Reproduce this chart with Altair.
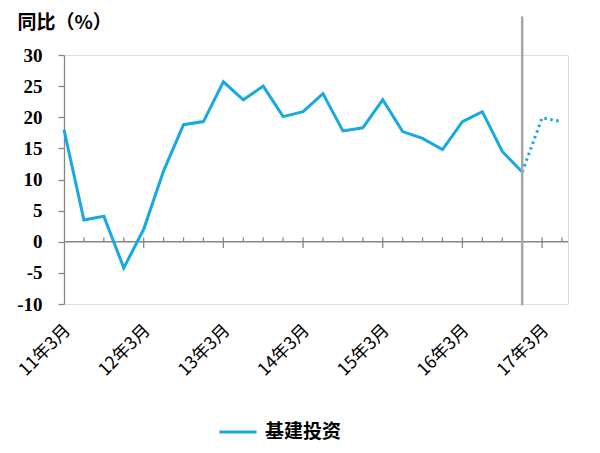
import json
import altair as alt
import pandas as pd

# ---- data ----
periods = ["11年3月", "11年6月", "11年9月", "11年12月",
           "12年3月", "12年6月", "12年9月", "12年12月",
           "13年3月", "13年6月", "13年9月", "13年12月",
           "14年3月", "14年6月", "14年9月", "14年12月",
           "15年3月", "15年6月", "15年9月", "15年12月",
           "16年3月", "16年6月", "16年9月", "16年12月",
           "17年3月", "17年6月"]
actual = [18.0, 3.5, 4.1, -4.2, 2.0, 11.4, 18.8, 19.3,
          25.7, 22.8, 25.0, 20.1, 20.9, 23.8, 17.8, 18.3,
          22.8, 17.7, 16.6, 14.8, 19.3, 20.9, 14.5, 11.2]
forecast_idx = [23, 24, 25]
forecast = [11.2, 19.9, 19.3]
series_name = "基建投资"
y_ticks = [-10, -5, 0, 5, 10, 15, 20, 25, 30]
label_idx = [0, 4, 8, 12, 16, 20, 24]
divider_idx = 23

BLUE = "#17A9E1"
GRAY = "#868686"

df_a = pd.DataFrame({"k": list(range(len(actual))), "v": actual, "s": series_name})
df_f = pd.DataFrame({"k": forecast_idx, "v": forecast})
df_zero = pd.DataFrame({"x0": [0], "x1": [25.3], "y": [0]})
df_ticks = pd.DataFrame({
    "k": list(range(1, len(periods))),
    "y0": [(-1.0 if i % 4 == 0 else 0.0) for i in range(1, len(periods))],
    "y1": [0.7] * (len(periods) - 1),
})
df_div = pd.DataFrame({"k": [divider_idx], "y0": [-10.2], "y1": [36.2]})

xs = alt.Scale(domain=[0, 25.3], nice=False, zero=False)
ys = alt.Scale(domain=[-10, 30], nice=False, zero=False)

label_expr = json.dumps(periods, ensure_ascii=False) + "[datum.value]"

x_axis = alt.Axis(values=label_idx, labelExpr=label_expr, labelAngle=-45,
                  labelAlign="right", labelBaseline="top", domain=False,
                  ticks=False, tickSize=0, grid=False, labelPadding=17,
                  labelOffset=-3, labelFont="Noto Sans CJK SC", labelFontSize=17.5,
                  labelColor="black", title=None, labelOverlap=False)
y_axis = alt.Axis(values=y_ticks, tickCount=9, labelExpr="'' + datum.value",
                  grid=False, labelOverlap=False,
                  domainColor=GRAY, domainWidth=1.3, tickColor=GRAY, tickWidth=1.3,
                  tickSize=6, labelPadding=16, labelFont="Liberation Serif",
                  labelFontWeight="bold", labelFontSize=19, labelColor="black",
                  title="同比（%）", titleAngle=0, titleX=-47, titleY=-33,
                  titleAlign="left", titleBaseline="middle",
                  titleFont="Noto Sans CJK SC", titleFontSize=19,
                  titleFontWeight="bold", titleColor="black")


def X(f):
    return alt.X(f, scale=xs, axis=x_axis)


def Y(f):
    return alt.Y(f, scale=ys, axis=y_axis)


zero = alt.Chart(df_zero).mark_rule(color=GRAY, strokeWidth=1.3).encode(
    x=X("x0:Q"), x2="x1:Q", y=Y("y:Q"))

ticks = alt.Chart(df_ticks).mark_rule(color=GRAY, strokeWidth=1.3).encode(
    x=X("k:Q"), y=Y("y0:Q"), y2="y1:Q")

line_a = alt.Chart(df_a).mark_line(strokeWidth=3, clip=False).encode(
    x=X("k:Q"), y=Y("v:Q"),
    color=alt.Color("s:N", scale=alt.Scale(range=[BLUE]),
                    legend=alt.Legend(orient="none", legendX=154, legendY=357,
                                      title=None, padding=0,
                                      symbolType="stroke", symbolSize=1369,
                                      symbolStrokeWidth=3, labelOffset=7,
                                      labelFont="Noto Sans CJK SC",
                                      labelFontSize=19, labelFontWeight="bold",
                                      labelColor="black")))

line_f = alt.Chart(df_f).mark_line(strokeWidth=3, strokeDash=[2.5, 3.5],
                                   color=BLUE).encode(
    x=X("k:Q"), y=Y("v:Q"))

divider = alt.Chart(df_div).mark_rule(color="#A6A6A6", strokeWidth=2.5).encode(
    x=X("k:Q"), y=Y("y0:Q"), y2="y1:Q")

chart = alt.layer(zero, ticks, line_a, line_f, divider).properties(
    width=504, height=249,
    autosize=alt.AutoSizeParams(type="none"),
    padding={"left": 56, "top": 47, "right": 24, "bottom": 141},
).configure_view(stroke=None).configure(background="white")

chart.save("out.html", embed_options={"renderer": "svg", "actions": False})
